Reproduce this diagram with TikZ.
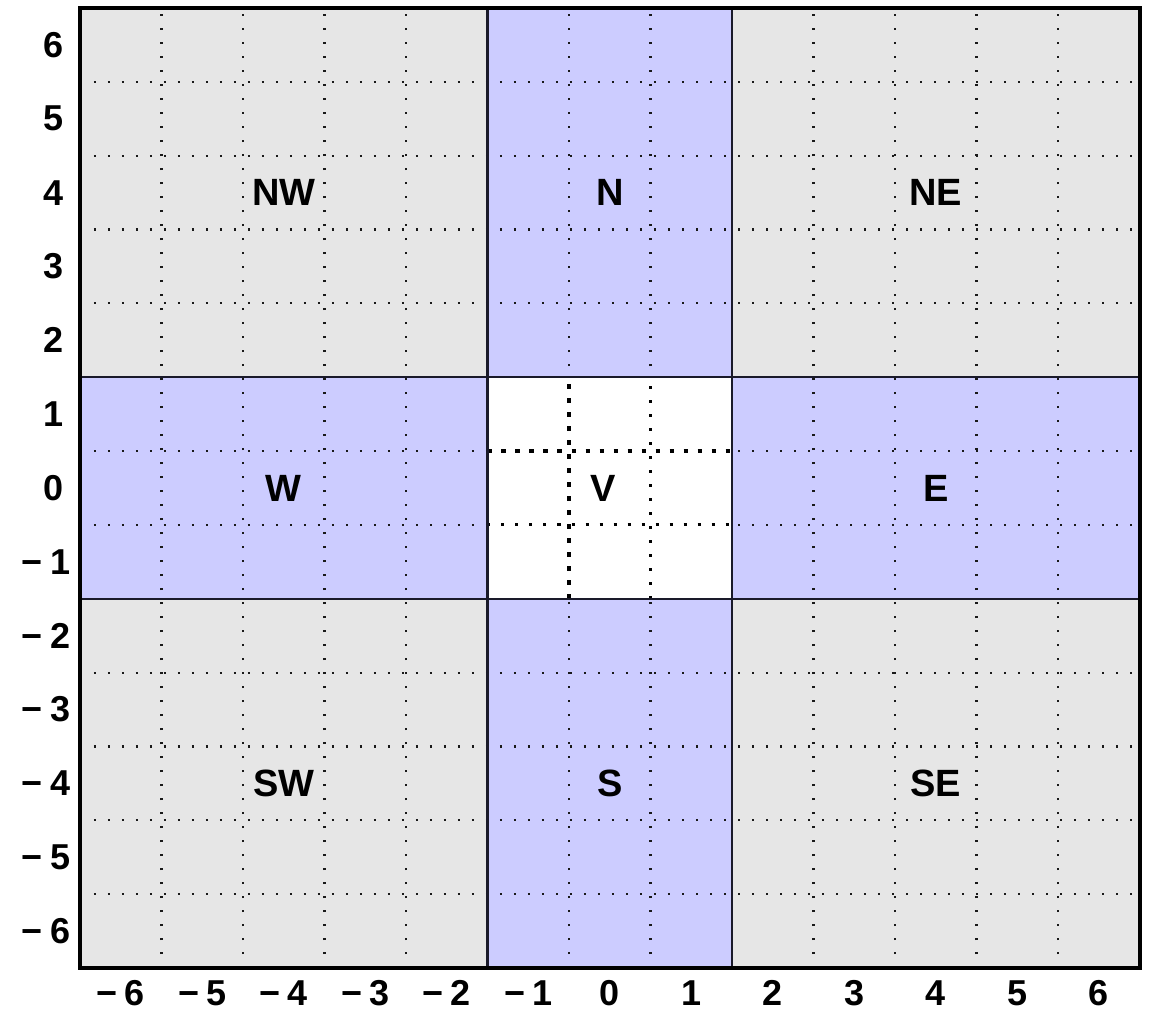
\documentclass[tikz,border=0pt]{standalone}
\usepackage{fontspec}
\setmainfont{Liberation Sans}
\definecolor{greyc}{HTML}{E6E6E6}
\definecolor{bluec}{HTML}{CCCCFF}
\definecolor{borderc}{HTML}{1A1A2A}
\begin{document}
\begin{tikzpicture}[x=40.75pt,y=36.923pt,
  gridthin/.style={line width=1.1pt,dash pattern=on 1.1pt off 5.9pt,black!90},
  gridbold/.style={line width=2.3pt,dash pattern=on 2.3pt off 4.7pt,black},
  gridmid/.style={line width=1.5pt,dash pattern=on 1.5pt off 5.5pt,black},
  border/.style={line width=1.1pt,borderc},
  frame/.style={line width=2pt,black},
  reglab/.style={inner sep=0pt,font=\bfseries\fontsize{19}{21}\selectfont},
  ticklab/.style={inner sep=0pt,font=\bfseries\fontsize{18}{20}\selectfont}]
\useasboundingbox (-7.4816,-7.1094) rectangle (6.7025,6.6083);
% fills
\fill[greyc] (-6.5,-6.5) rectangle (6.5,6.5);
\fill[bluec] (-1.5,-6.5) rectangle (1.5,6.5);
\fill[bluec] (-6.5,-1.5) rectangle (6.5,1.5);
% grid
\foreach \v in {-5.5,-4.5,-3.5,-2.5,-0.5,0.5,2.5,3.5,4.5,5.5}{
  \draw[gridthin] (\v,-6.5) -- (\v,6.5);
  \draw[gridthin] (-6.5,\v) -- (6.5,\v);
}
\fill[white] (-1.5,-1.5) rectangle (1.5,1.5);
\draw[gridbold] (-0.5,-1.5) -- (-0.5,1.5);
\draw[gridbold] (-1.5,0.5) -- (1.5,0.5);
\draw[gridmid] (0.5,-1.5) -- (0.5,1.5);
\draw[gridmid] (-1.5,-0.5) -- (1.5,-0.5);
% region borders
\draw[border] (-1.5,-6.5) -- (-1.5,6.5);
\draw[border] (1.5,-6.5) -- (1.5,6.5);
\draw[border] (-6.5,-1.5) -- (6.5,-1.5);
\draw[border] (-6.5,1.5) -- (6.5,1.5);
\draw[frame] (-6.5,-6.5) rectangle (6.5,6.5);
% region labels
\node[reglab] (NW) at (-4,4) {NW};
\node[reglab] (N) at (0,4) {N};
\node[reglab] (NE) at (4,4) {NE};
\node[reglab] (W) at (-4,0) {W};
\node[reglab] (V) at (-0.08,0) {V};
\node[reglab] (E) at (4,0) {E};
\node[reglab] (SW) at (-4,-4) {SW};
\node[reglab] (S) at (0,-4) {S};
\node[reglab] (SE) at (4,-4) {SE};
% x tick labels
\foreach \t in {1,...,6}{
  \node[ticklab] (xp\t) at (\t,-6.84) {\t};
  \node[ticklab] (xm\t) at (-\t,-6.84) {−\hspace{0.2em}\t};
}
\node[ticklab] (x0) at (0,-6.84) {0};
% y tick labels
\foreach \t in {1,...,6}{
  \node[ticklab] (yp\t) at (-6.831,\t) {\t};
  \node[ticklab] (ym\t) at (-6.917,-\t) {−\hspace{0.2em}\t};
}
\node[ticklab] (y0) at (-6.831,0) {0};
\end{tikzpicture}
\end{document}
